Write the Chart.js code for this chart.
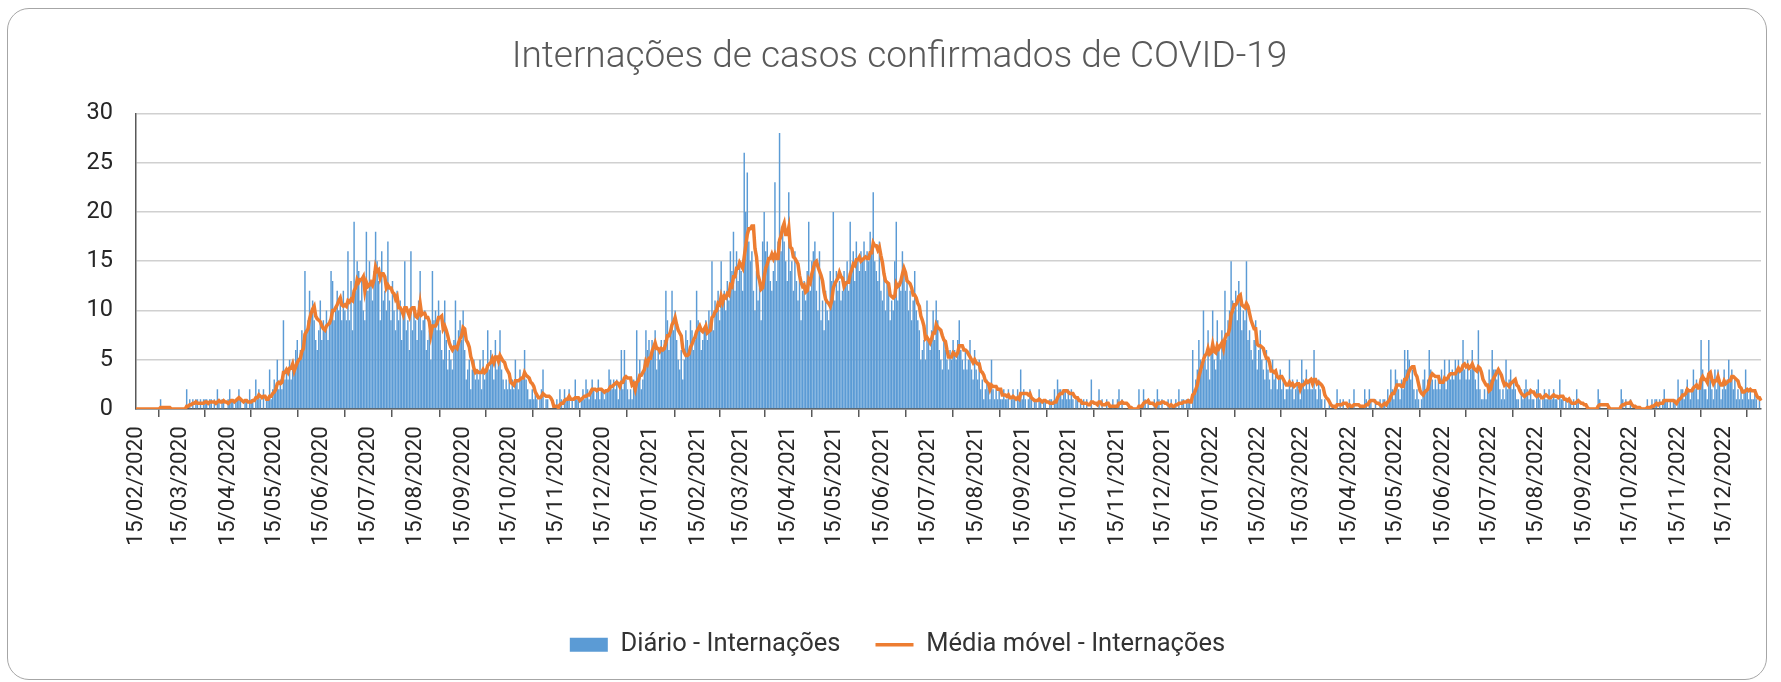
<!DOCTYPE html>
<html lang="pt-BR">
<head>
<meta charset="utf-8">
<title>Internações de casos confirmados de COVID-19</title>
<script src="https://cdn.jsdelivr.net/npm/chart.js@4.4.1/dist/chart.umd.min.js"></script>
<style>
  html, body { margin: 0; padding: 0; background: #fff; }
  #quadro { position: relative; width: 1781px; height: 682px; overflow: hidden; }
  #grafico { position: absolute; left: 0; top: 0; width: 1781px; height: 682px; }
  #moldura { position: absolute; left: 7px; top: 8px; width: 1758px; height: 670px;
             border: 1px solid #a6a6a6; border-radius: 22px; pointer-events: none; }
</style>
</head>
<body>
<div id="quadro">
  <canvas id="grafico" width="1781" height="682"></canvas>
  <div id="moldura"></div>
</div>
<script>
// === Dados (internações diárias) ===
// primeiro dia da série: 15/02/2020 (mês com base 0)
const inicio = [2020, 1, 15];

const diario2020 = [
  0,0,0,0,0,0,0,0,0,0,0,0,0,0,0,                                   // fev (15-29)
  0,1,0,0,0,0,0,0,0,0, 0,0,0,0,0,0,0,0,2,0, 1,0,1,0,1,1,0,1,0,1, 1, // mar
  1,0,1,1,0,1,0,2,1,0, 1,1,0,0,1,2,1,1,0,1, 1,2,1,0,0,1,1,0,2,1,    // abr
  1,0,3,1,2,1,0,2,0,1, 1,4,1,2,3,2,5,2,3,2, 9,3,4,3,5,3,5,4,6,7, 5, // mai
  6,8,7,14,8,9,12,10,11,9, 7,6,8,11,7,9,8,10,7,9, 14,13,9,10,12,10,11,9,12,10,       // jun
  9,16,9,13,8,19,12,15,14,11, 13,10,9,18,12,15,13,11,14,18, 15,13,9,16,11,12,10,17,11,9, 13, // jul
  10,8,12,9,11,7,10,15,8,9, 6,16,8,10,9,7,11,14,8,9, 10,6,7,8,5,14,9,10,8,11, 8,   // ago
  6,5,11,7,4,6,5,4,7,11, 6,8,9,7,10,6,3,4,5,2, 4,5,3,4,3,5,2,6,3,4,  // set
  8,4,6,5,3,7,4,5,8,4, 3,2,3,2,3,2,3,2,5,3, 2,4,3,3,6,3,2,1,1,2, 1, // out
  2,1,0,1,2,4,0,1,1,0, 0,0,0,0,1,0,2,1,0,2, 1,1,2,0,1,0,3,1,1,0,    // nov
  1,2,1,3,2,1,2,3,2,1, 2,3,1,2,2,1,2,2,4,3, 2,3,2,3,1,2,6,2,6,3, 2  // dez
];

const diario2021 = [
  1,2,1,3,2,8,3,5,2,3, 5,8,6,7,5,7,6,8,4,6, 5,7,6,7,12,9,6,8,12,8, 10,              // jan
  7,5,4,6,3,5,8,7,6,9, 8,6,7,12,9,8,6,7,8,9, 7,10,9,15,8,11,10,12,                  // fev
  9,15,11,12,10,13,11,16,14,18, 12,16,13,15,14,12,26,20,24,17, 15,16,12,10,14,11,13,9,17,20, 16, // mar
  17,15,13,12,14,23,13,17,28,16, 18,17,15,13,22,14,15,12,16,13, 11,14,9,12,13,11,14,19,12,15,     // abr
  16,17,12,10,16,9,11,8,12,10, 9,14,13,20,11,14,12,13,11,12, 14,13,15,12,19,14,16,13,17,15, 14,   // mai
  16,15,17,14,16,15,18,16,22,15, 14,13,17,12,11,14,10,13,12,9, 11,10,15,19,11,13,12,16,14,12,     // jun
  13,10,12,9,11,14,10,9,8,5, 6,7,5,11,7,6,8,10,7,11, 9,6,5,4,7,6,5,4,6,5, 7,       // jul
  6,5,7,9,6,5,4,6,4,5, 7,4,3,6,4,3,5,2,3,1, 2,3,2,1,5,2,1,2,1,2, 1, // ago
  1,2,1,1,2,0,1,2,1,0, 2,1,4,1,2,1,0,1,2,1, 0,1,1,0,2,1,0,1,1,0,    // set
  0,1,1,0,2,1,3,2,2,1, 2,2,1,2,1,2,1,0,1,1, 0,1,0,1,0,1,0,0,3,0, 0, // out
  0,0,2,0,1,0,0,1,0,0, 0,1,0,0,1,2,0,1,0,0, 0,0,0,0,0,0,0,0,2,0,    // nov
  0,2,1,0,1,0,0,0,1,0, 2,1,0,1,0,0,0,1,0,1, 0,0,1,0,2,0,1,1,0,1, 1  // dez
];

const diario2022 = [
  1,0,6,2,3,4,7,5,4,10, 5,4,8,3,6,10,5,4,9,6, 5,8,6,12,7,9,10,15,11,10, 12, // jan
  9,13,11,8,10,9,15,7,8,6, 5,7,9,4,6,8,5,4,3,6, 4,3,2,5,3,4,2,3,           // fev
  4,2,3,1,2,2,5,2,3,1, 2,3,2,1,5,3,2,4,2,3, 2,2,6,2,1,3,2,1,0,1, 0, // mar
  0,1,0,0,0,0,2,0,1,0, 1,0,0,0,1,0,0,2,0,0, 0,0,0,0,2,1,0,2,1,0,    // abr
  0,1,0,0,1,0,1,1,0,2, 1,4,2,1,4,3,2,1,3,2, 6,4,6,5,3,4,2,1,2,1, 0, // mai
  1,3,4,2,3,6,4,3,2,3, 2,3,2,4,3,5,2,3,5,3, 4,3,5,4,5,3,4,7,4,3,    // jun
  5,3,4,6,4,3,2,8,2,1, 1,2,1,2,4,3,6,4,4,3, 4,2,1,2,1,5,2,3,4,2, 3, // jul
  2,1,1,0,2,1,2,3,2,1, 2,1,1,0,2,3,1,0,1,2, 1,1,2,1,1,2,1,1,0,3, 1, // ago
  1,0,1,0,1,1,0,1,0,2, 1,0,0,0,0,0,0,0,0,0, 0,0,0,2,1,0,0,0,0,0,    // set
  0,0,0,0,0,0,0,0,2,1, 0,1,0,0,1,0,0,0,0,0, 0,0,0,0,0,1,0,0,1,0, 1, // out
  1,0,1,0,1,2,1,1,0,1, 0,1,1,0,3,1,2,2,1,2, 3,2,1,2,4,2,3,1,2,7,    // nov
  4,2,2,1,7,3,2,1,4,2, 4,3,1,2,4,2,3,5,3,4, 2,3,1,2,1,2,1,2,4,2, 1  // dez
];

const diario2023 = [2,1,1,2,1,0,1,0]; // jan (1-8)

const diario = diario2020.concat(diario2021, diario2022, diario2023);

// rótulos diários dd/mm/aaaa
const dias = diario.map(function (_, i) {
  const d = new Date(Date.UTC(inicio[0], inicio[1], inicio[2] + i));
  return String(d.getUTCDate()).padStart(2, "0") + "/" +
         String(d.getUTCMonth() + 1).padStart(2, "0") + "/" + d.getUTCFullYear();
});

// média móvel de 7 dias da série diária
const mediaMovel = diario.map(function (_, i) {
  const janela = diario.slice(Math.max(0, i - 6), i + 1);
  return janela.reduce(function (s, v) { return s + v; }, 0) / janela.length;
});

// legenda e título um pouco à direita do centro, como no original
const deslocarBlocos = {
  id: "deslocarBlocos",
  afterLayout: function (chart) {
    chart.legend.left += 17;
    chart.legend.right += 17;
    chart.titleBlock.left += 19;
    chart.titleBlock.right += 19;
  }
};

const ctx = document.getElementById("grafico").getContext("2d");
const grafico = new Chart(ctx, {
  type: "bar",
  data: {
    labels: dias,
    datasets: [{
      type: "bar",
      label: "Diário - Internações",
      data: diario,
      backgroundColor: "#5B9BD5",
      borderWidth: 0,
      barPercentage: 1,
      categoryPercentage: 0.95,
      order: 1
    }, {
      type: "line",
      label: "Média móvel - Internações",
      data: mediaMovel,
      borderColor: "#ED7D31",
      backgroundColor: "#ED7D31",
      borderWidth: 3.5,
      pointRadius: 0,
      tension: 0,
      order: 0
    }]
  },
  options: {
    responsive: false,
    animation: false,
    layout: { padding: { left: 0, right: 20, top: 0, bottom: 14.5 } },
    plugins: {
      title: {
        display: true,
        text: "Internações de casos confirmados de COVID-19",
        color: "#595959",
        font: { family: "Roboto", size: 37, weight: 300 },
        padding: { top: 36, bottom: 33 }
      },
      legend: {
        position: "bottom",
        labels: {
          usePointStyle: true,
          pointStyleWidth: 38,
          boxHeight: 14,
          padding: 35,
          color: "#333333",
          font: { family: "Roboto", size: 25.5 },
          sort: function (a, b) { return a.datasetIndex - b.datasetIndex; },
          generateLabels: function (chart) {
            const itens = Chart.defaults.plugins.legend.labels.generateLabels(chart);
            itens.forEach(function (it) {
              it.pointStyle = it.datasetIndex === 0 ? "rect" : "line";
            });
            return itens;
          }
        }
      },
      tooltip: { enabled: false }
    },
    scales: {
      x: {
        offset: false,
        grid: { drawOnChartArea: false, drawTicks: true, tickLength: 8, color: "#595959", lineWidth: 1.5 },
        border: { color: "#595959", width: 1.5 },
        ticks: {
          autoSkip: false,
          minRotation: 90,
          maxRotation: 90,
          padding: 9,
          color: "#262626",
          font: { family: "Roboto", size: 22.5 }
        },
        // só o dia 15 de cada mês leva marca e rótulo
        afterBuildTicks: function (axis) {
          axis.ticks = axis.ticks.filter(function (t) { return dias[t.value].startsWith("15/"); });
        },
        afterFit: function (axis) { axis.height = 188; }
      },
      y: {
        min: 0,
        max: 30,
        ticks: { stepSize: 5, padding: 23, color: "#262626", font: { family: "Roboto", size: 23.5 } },
        grid: { color: "#d0d0d0", lineWidth: 1.5, drawTicks: false },
        border: { color: "#595959", width: 1.5 },
        afterFit: function (axis) { axis.width = 136; }
      }
    }
  },
  plugins: [deslocarBlocos]
});
</script>
</body>
</html>
